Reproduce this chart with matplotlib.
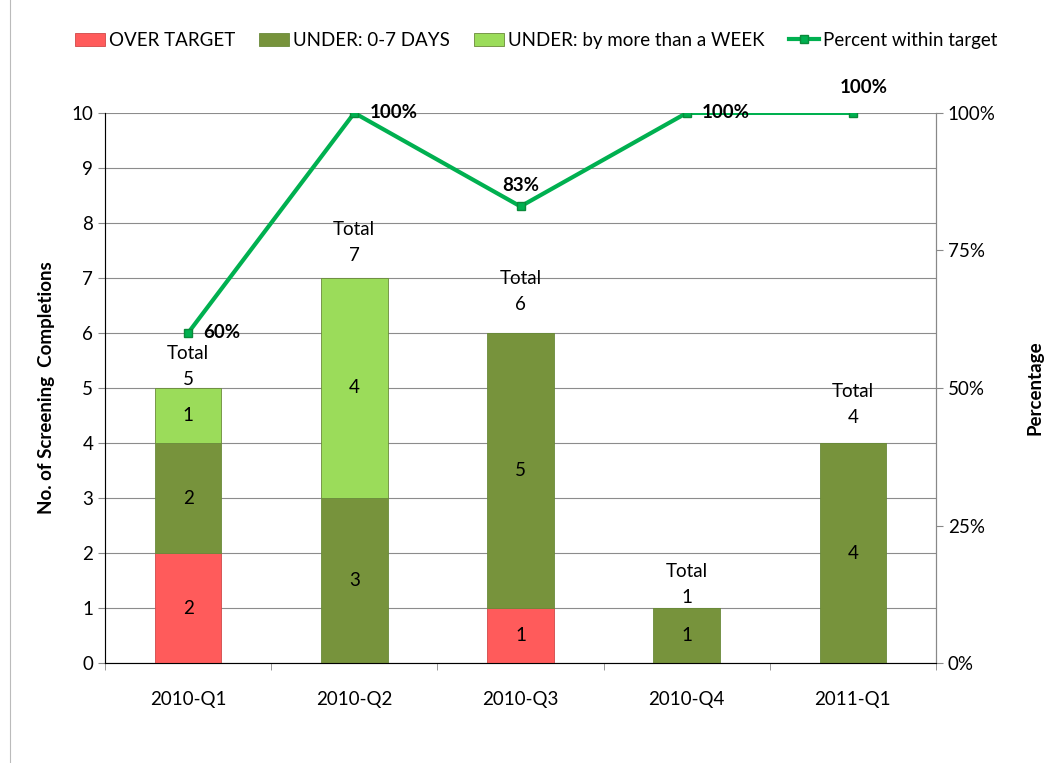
import matplotlib
matplotlib.use("Agg")
import matplotlib.pyplot as plt
import numpy as np

plt.rcParams['font.family'] = ['Lato', 'DejaVu Sans']

categories = ["2010-Q1", "2010-Q2", "2010-Q3", "2010-Q4", "2011-Q1"]
over_target = [2, 0, 1, 0, 0]
under_0_7 = [2, 3, 5, 1, 4]
under_week = [1, 4, 0, 0, 0]
totals = [5, 7, 6, 1, 4]
pct_within = [60, 100, 83, 100, 100]

FS = 13.5
fig = plt.figure(figsize=(10.51, 7.63), dpi=100)
ax = fig.add_axes([0.0999, 0.131, 0.7907, 0.721])
x = np.arange(len(categories))
w = 0.4
c_red, c_dark, c_light = "#FF5B5B", "#77933C", "#9BDC5A"
b0 = np.zeros(len(x))
series = [(over_target, c_red, "OVER TARGET"), (under_0_7, c_dark, "UNDER: 0-7 DAYS"),
          (under_week, c_light, "UNDER: by more than a WEEK")]
handles = []
for vals, col, lab in series:
    vals = np.array(vals, dtype=float)
    bars = ax.bar(x, vals, w, bottom=b0, color=col, edgecolor="#6a8a3a" if col != c_red else "#d04848",
                  linewidth=0.6, label=lab, zorder=3)
    handles.append(bars)
    for xi, v, b in zip(x, vals, b0):
        if v > 0:
            ax.text(xi, b + v / 2, f"{int(v)}", ha="center", va="center", fontsize=FS, zorder=5)
    b0 = b0 + vals

# label offsets (pixels above bar top for the number line)
total_offsets_px = [8, 22, 28, 11, 25]
for xi, t, d in zip(x, totals, total_offsets_px):
    ax.annotate(f"{t}", (xi, t), xytext=(0, d), textcoords="offset pixels",
                ha="center", va="center", fontsize=FS, zorder=5)
    ax.annotate("Total", (xi, t), xytext=(0, d + 26), textcoords="offset pixels",
                ha="center", va="center", fontsize=FS, zorder=5)

ax.set_xlim(-0.5, len(x) - 0.5)
ax.set_ylim(0, 10)
ax.set_yticks(range(0, 11))
ax.set_xticks(x)
ax.set_xticklabels(categories, fontsize=FS)
ax.set_xticks(np.arange(-0.5, len(x), 1), minor=True)
ax.tick_params(axis="x", which="major", length=0, pad=20)
ax.tick_params(axis="x", which="minor", length=5, color="#888888")
ax.tick_params(axis="y", labelsize=FS, length=5, color="#888888")
ax.grid(axis="y", color="#8c8c8c", linewidth=0.8, zorder=0)
ax.spines["top"].set_visible(False)
for s in ["left", "bottom", "right"]:
    ax.spines[s].set_color("#888888")
ax.set_ylabel("No. of Screening  Completions", fontsize=FS, fontweight="bold", labelpad=12)

ax2 = ax.twinx()
ax2.set_ylim(0, 100)
ax2.set_yticks([0, 25, 50, 75, 100])
ax2.set_yticklabels(["0%", "25%", "50%", "75%", "100%"], fontsize=FS)
ax2.tick_params(axis="y", length=5, color="#888888")
ax2.spines["top"].set_visible(False)
ax2.spines["right"].set_color("#888888")
ax2.set_ylabel("Percentage", fontsize=FS, fontweight="bold", labelpad=22)
line, = ax2.plot(x, pct_within, color="#00B050", linewidth=3, marker="s", markersize=6,
                 markerfacecolor="#00B050", markeredgecolor="#0a8a3a", label="Percent within target", zorder=6)
offsets = [(11, 0, "left", "center"), (11, 0, "left", "center"), (0, 9, "center", "bottom"),
           (11, 0, "left", "center"), (8, 12, "center", "bottom")]
for xi, p, (dx, dy, ha, va) in zip(x, pct_within, offsets):
    ax2.annotate(f"{p}%", (xi, p), xytext=(dx, dy), textcoords="offset points", ha=ha, va=va,
                 fontsize=FS, fontweight="bold", annotation_clip=False, zorder=7)

fig.legend(handles + [line], [h.get_label() for h in handles] + [line.get_label()],
           loc="center", bbox_to_anchor=(0.51, 0.947), ncol=4, frameon=False, fontsize=FS,
           handlelength=1.6, handletextpad=0.2, columnspacing=1.3)

fig.add_artist(plt.Line2D([0.0095, 0.0095], [0.0, 1.0], color="#bbbbbb", linewidth=0.8))
fig.savefig("out.png", dpi=100)
